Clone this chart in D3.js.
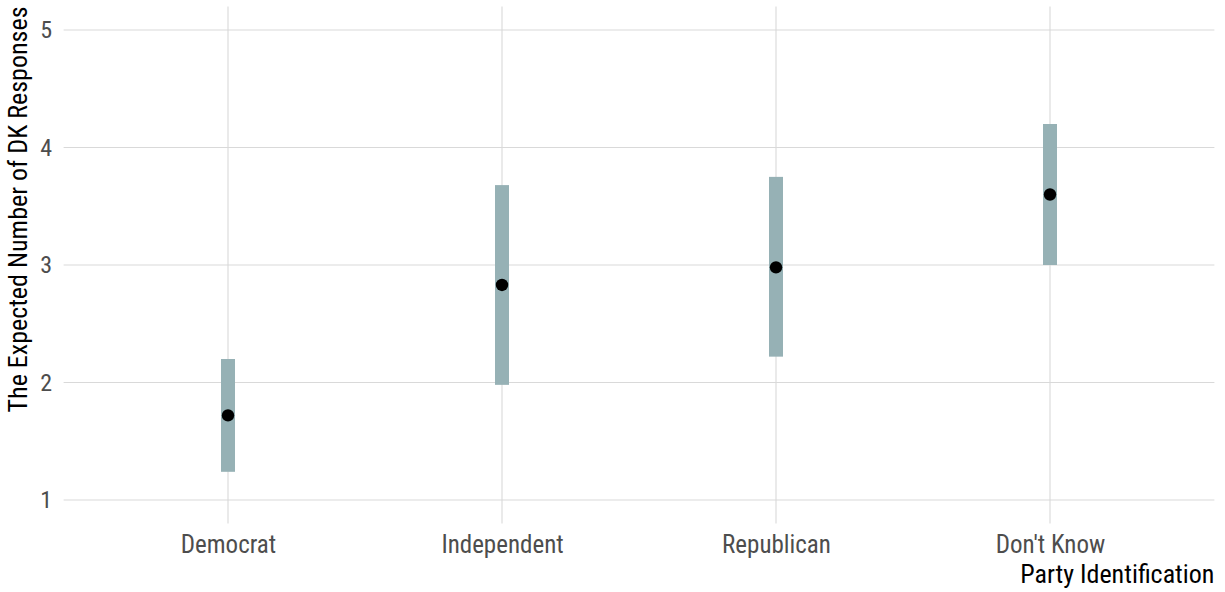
<!DOCTYPE html>
<html><head><meta charset="utf-8">
<script src="https://cdn.jsdelivr.net/npm/d3@7"></script>
<style>
body{margin:0;background:#fff;}
text{font-family:"Roboto Condensed","Roboto",sans-serif;}
</style></head>
<body><svg id="c" width="1225" height="592"></svg>
<script>
const categories = ["Democrat","Independent","Republican","Don't Know"];
const lower = [1.24, 1.98, 2.22, 3.00];
const upper = [2.20, 3.68, 3.75, 4.20];
const estimate = [1.72, 2.83, 2.98, 3.60];
const yTicks = [1,2,3,4,5];
const xTitle = "Party Identification";
const yTitle = "The Expected Number of DK Responses";

const data = categories.map((c,i)=>({c, lo:lower[i], hi:upper[i], est:estimate[i]}));
const svg = d3.select("#c");
const L = 63.6, R = 1214.4, T = 6.5, B = 523.5;
const x = d3.scalePoint().domain(categories).range([L,R]).padding(0.6);
const y = d3.scaleLinear().domain([0.8,5.2]).range([B,T]);

const grid = svg.append("g");
grid.selectAll("line.h").data(yTicks).join("line")
  .attr("x1",L).attr("x2",R).attr("y1",d=>y(d)).attr("y2",d=>y(d))
  .attr("stroke","#d9d9d9").attr("stroke-width",1.1);
grid.selectAll("line.v").data(categories).join("line")
  .attr("y1",T).attr("y2",B).attr("x1",d=>x(d)).attr("x2",d=>x(d))
  .attr("stroke","#d9d9d9").attr("stroke-width",1.1);

svg.append("g").selectAll("rect").data(data).join("rect")
  .attr("x",d=>x(d.c)-7).attr("width",14)
  .attr("y",d=>y(d.hi)).attr("height",d=>y(d.lo)-y(d.hi))
  .attr("fill","#96b1b5");
svg.append("g").selectAll("circle").data(data).join("circle")
  .attr("cx",d=>x(d.c)).attr("cy",d=>y(d.est)).attr("r",6.2)
  .attr("fill","#000");

const yAxis = svg.append("g").attr("transform",`translate(${L},0)`)
  .call(d3.axisLeft(y).tickValues(yTicks).tickSize(0).tickPadding(11.5).tickFormat(d3.format("d")));
yAxis.select(".domain").remove();
yAxis.selectAll("text").attr("font-size",24).attr("fill","#4d4d4d");

const xAxis = svg.append("g").attr("transform",`translate(0,${B})`)
  .call(d3.axisBottom(x).tickSize(0).tickPadding(12));
xAxis.select(".domain").remove();
xAxis.selectAll("text").attr("font-size",25).attr("fill","#4d4d4d");

svg.append("text").attr("x",R).attr("y",583).attr("text-anchor","end")
  .attr("font-size",26).attr("fill","#000").text(xTitle);
svg.append("text").attr("transform",`translate(27,${T}) rotate(-90)`)
  .attr("text-anchor","end").attr("font-size",26).attr("fill","#000").text(yTitle);
</script></body></html>
